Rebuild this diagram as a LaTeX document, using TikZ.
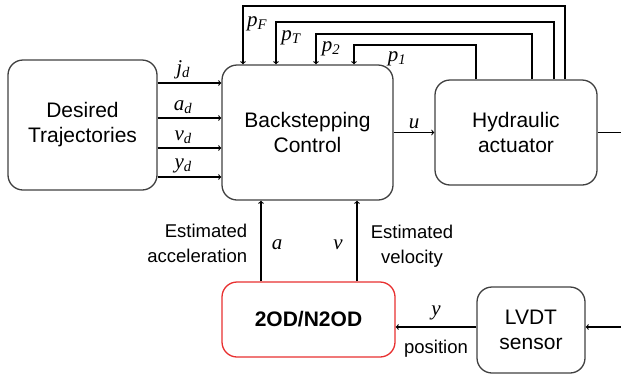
\documentclass[tikz,border=0pt]{standalone}
\usepackage{fontspec}
\setmainfont{Liberation Sans}
\newfontfamily\tms{Liberation Serif}
\newcommand{\sigsub}[2]{{\tms\itshape #1\textsubscript{#2}}}
\newcommand{\sigsym}[1]{{\tms\itshape #1}}
\definecolor{obsred}{RGB}{232,48,48}
\tikzset{
  blk/.style={draw=black!75, line width=1.3pt, rounded corners=15pt, align=center,
    inner sep=0pt, font=\fontsize{21}{25}\selectfont},
  sig/.style={font=\fontsize{21}{22}\selectfont},
  note/.style={font=\fontsize{18.5}{25}\selectfont, align=center}
}
\begin{document}
\begin{tikzpicture}[x=1pt, y=-1pt, >=to, line width=1.1pt]
  \useasboundingbox (0,0) rectangle (621,378);
  % Blocks
  \node[blk, minimum width=149pt, minimum height=130pt] (traj) at (82.5,125) {Desired\\Trajectories};
  \node[blk, minimum width=171pt, minimum height=135pt] (ctrl) at (307.5,132.5) {Backstepping\\Control};
  \node[blk, minimum width=162pt, minimum height=105pt] (act) at (516,132.5) {Hydraulic\\actuator};
  \node[blk, draw=obsred, minimum width=173pt, minimum height=75pt,
    font=\bfseries\fontsize{21}{25}\selectfont] (obs) at (308.5,319.5) {2OD/N2OD};
  \node[blk, minimum width=108pt, minimum height=86pt] (lvdt) at (531,330) {LVDT\\sensor};
  % Desired signals
  \foreach \yy/\lab in {83/j, 118/a, 148/v, 177/y} {
    \coordinate (r) at (0,\yy);
    \draw[->] (traj.east |- r) -- node[pos=0.4, above, sig] {\sigsub{\lab}{d}} (ctrl.west |- r);
  }
  % Pressure feedback
  \foreach \sa/\sc/\hh in {49/-64.5/6, 38/-31.5/22, 16/8.5/34, -40/46.5/45} {
    \coordinate (s) at ([xshift=\sa pt]act.north);
    \coordinate (t) at ([xshift=\sc pt]ctrl.north);
    \coordinate (h) at (0,\hh);
    \draw[->] (s) -- (s |- h) -- (t |- h) -- (t);
  }
  \node[sig] (lpF) at (257,24) {\sigsub{p}{F}};
  \node[sig] (lpT) at (291,38) {\sigsub{p}{T}};
  \node[sig] (lp2) at (331,49) {\sigsub{p}{2}};
  \node[sig] (lp1) at (397,59) {\sigsub{p}{1}};
  % Control input and output
  \draw[->] (ctrl.east) -- node[above, sig] {\sigsym{u}} (act.west);
  \coordinate (out) at (621,132.5);
  \draw (act.east) -- (out);
  % Measurement
  \coordinate (in) at (621,327);
  \draw[->] (in) -- (lvdt.east |- in);
  \draw[->] (lvdt.west |- in) -- node[above=3pt, sig] {\sigsym{y}} node[below=9pt, note] {position} (obs.east |- in);
  % Estimated states
  \coordinate (ca) at (261,0);
  \coordinate (cv) at (357,0);
  \draw[->] (obs.north -| ca) -- (ctrl.south -| ca);
  \draw[->] (obs.north -| cv) -- (ctrl.south -| cv);
  \node[sig] (la) at (277,245) {\sigsym{a}};
  \node[sig] (lv) at (338,245) {\sigsym{v}};
  \node[note, align=right, anchor=east] (lacc) at (251,243) {Estimated\\acceleration};
  \node[note] (lvel) at (412,246) {Estimated\\velocity};
\end{tikzpicture}
\end{document}
